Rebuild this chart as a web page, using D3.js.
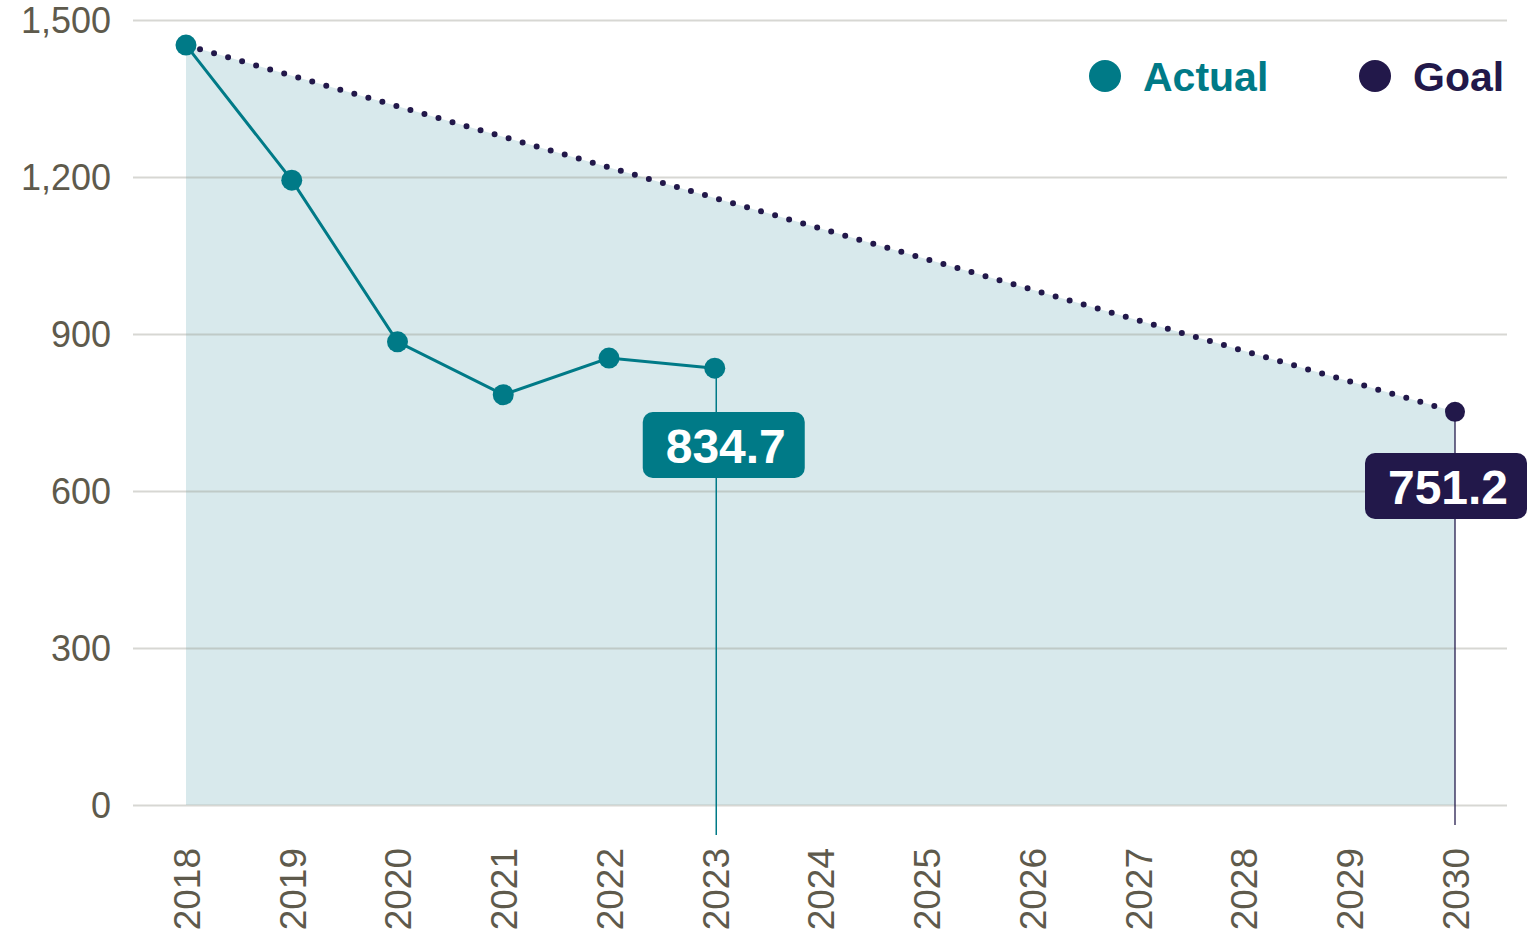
<!DOCTYPE html>
<html><head><meta charset="utf-8">
<script src="https://cdn.jsdelivr.net/npm/d3@7"></script>
<style>body{margin:0;background:#fff}svg{display:block}</style>
</head><body>
<svg id="c" width="1527" height="933"></svg>
<script>
const years = [2018,2019,2020,2021,2022,2023,2024,2025,2026,2027,2028,2029,2030];
const actualYears = [2018,2019,2020,2021,2022,2023];
const actualValues = [1452,1194,885,784,854,834.7];
const goalYears = [2018,2030];
const goalValues = [1452,751.2];
const yTicks = [0,300,600,900,1200,1500];
const labels = [{year:2023,value:834.7,text:"834.7",series:"actual"},{year:2030,value:751.2,text:"751.2",series:"goal"}];

const teal = "#007a87", navy = "#22184a", txt = "#5e5a4c", fill = "#d8e9ec";
const svg = d3.select("#c");
const x = d3.scaleLinear().domain([2018,2030]).range([186,1455]);
const y = d3.scaleLinear().domain([0,1500]).range([805,20]);

// area under goal
const goal = goalYears.map((d,i)=>({x:d,y:goalValues[i]}));
svg.append("path").datum(goal)
  .attr("d", d3.area().x(d=>x(d.x)).y0(y(0)).y1(d=>y(d.y)))
  .attr("fill", fill);

// grid
const yAxis = d3.axisLeft(y).tickValues(yTicks).tickSize(-(1507-133)).tickPadding(22).tickFormat(d3.format(","));
const ga = svg.append("g").attr("transform","translate(133,0)").call(yAxis);
ga.select(".domain").remove();
ga.selectAll(".tick line").attr("stroke", "#9a9a90").attr("stroke-width",2).attr("stroke-opacity",0.4);
ga.selectAll(".tick text").attr("fill", txt).attr("font-family","Liberation Sans, Arial, sans-serif").attr("font-size",36).attr("dy","0.36em");

// x axis labels
const xAxis = d3.axisBottom(x).tickValues(years).tickSize(0).tickFormat(d3.format("d"));
const gx = svg.append("g").attr("transform","translate(0,805)").call(xAxis);
gx.select(".domain").remove();
gx.selectAll(".tick text").attr("fill", txt).attr("font-family","Liberation Sans, Arial, sans-serif").attr("font-size",37)
  .attr("transform","rotate(-90)").attr("text-anchor","end").attr("x",-43).attr("y",0).attr("dy","0.36em");

// vertical leader lines
svg.append("line").attr("x1",x(2023)+1.5).attr("x2",x(2023)+1.5).attr("y1",y(834.7)).attr("y2",835).attr("stroke",teal).attr("stroke-width",1.5);
svg.append("line").attr("x1",x(2030)).attr("x2",x(2030)).attr("y1",y(751.2)).attr("y2",825).attr("stroke",navy).attr("stroke-width",1.5).attr("stroke-opacity",0.85);

// goal dotted line
svg.append("path").datum(goal)
  .attr("d", d3.line().x(d=>x(d.x)).y(d=>y(d.y)))
  .attr("fill","none").attr("stroke",navy).attr("stroke-width",6).attr("stroke-linecap","round").attr("stroke-dasharray","0 14.6");
svg.append("circle").attr("cx",x(2030)).attr("cy",y(751.2)).attr("r",10).attr("fill",navy);

// actual line
const act = actualYears.map((d,i)=>({x:d,y:actualValues[i]}));
svg.append("path").datum(act)
  .attr("d", d3.line().x(d=>x(d.x)).y(d=>y(d.y)))
  .attr("fill","none").attr("stroke",teal).attr("stroke-width",3);
svg.selectAll("circle.a").data(act).enter().append("circle").attr("class","a")
  .attr("cx",d=>x(d.x)).attr("cy",d=>y(d.y)).attr("r",10.5).attr("fill",teal);

// value labels
const boxes = [{dx:9,cy:445,color:teal},{dx:-9,cy:486,color:navy}];
labels.forEach((l,i)=>{
  const b = boxes[i];
  const cx = x(l.year)+b.dx;
  svg.append("rect").attr("x",cx-81).attr("y",b.cy-33).attr("width",162).attr("height",66).attr("rx",10).attr("fill",b.color);
  svg.append("text").attr("x",cx+2).attr("y",b.cy+1).attr("dy","0.36em").attr("text-anchor","middle")
    .attr("fill","#fff").attr("font-family","Liberation Sans, Arial, sans-serif").attr("font-weight","bold").attr("font-size",48).text(l.text);
});

// legend
const legend = [{name:"Actual",color:teal,cx:1105,tx:1143},{name:"Goal",color:navy,cx:1375,tx:1413}];
legend.forEach(l=>{
  svg.append("circle").attr("cx",l.cx).attr("cy",76).attr("r",16).attr("fill",l.color);
  svg.append("text").attr("x",l.tx).attr("y",76).attr("dy","0.36em").attr("fill",l.color)
    .attr("font-family","Liberation Sans, Arial, sans-serif").attr("font-weight","bold").attr("font-size",41).text(l.name);
});
</script>
</body></html>
